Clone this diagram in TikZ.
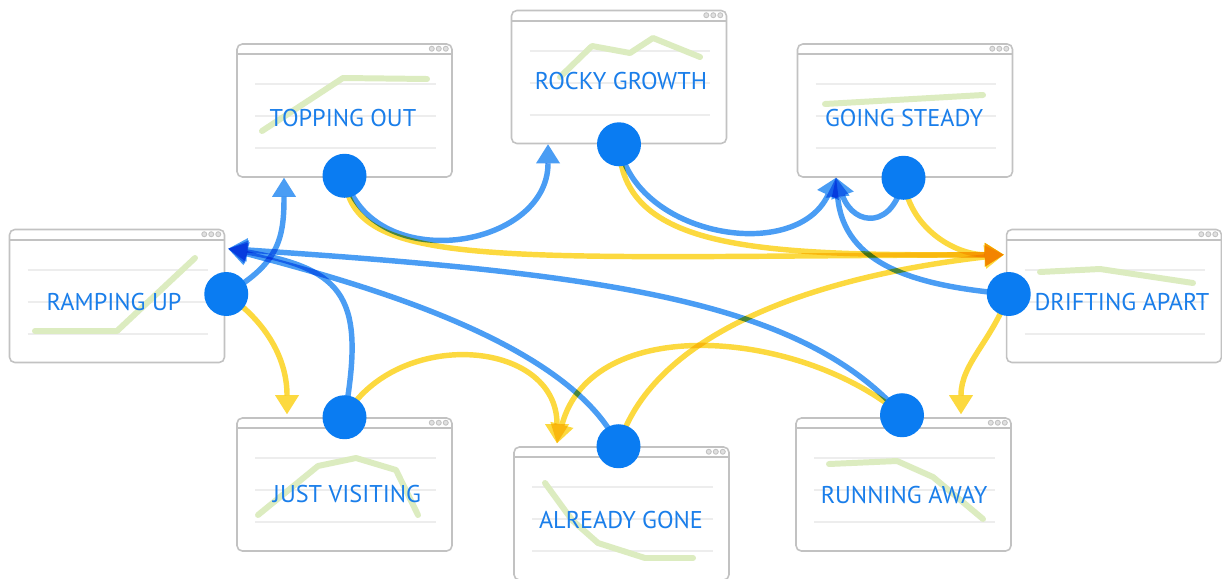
\documentclass[tikz,border=0pt]{standalone}
\usepackage{fontspec}
\setmainfont{PT Sans}
\usetikzlibrary{arrows.meta}

\definecolor{boxgray}{HTML}{C2C2C2}
\definecolor{rulegray}{HTML}{EDEDED}
\definecolor{trendgreen}{HTML}{DCECC0}
\definecolor{labelblue}{HTML}{1A7EEA}
\definecolor{dotblue}{HTML}{0A7CF2}
\definecolor{gainblue}{HTML}{4A9DF4}
\definecolor{lossyellow}{HTML}{FCD93F}

\pgfdeclarelayer{back}
\pgfdeclarelayer{flows}
\pgfsetlayers{back,flows,main}

\tikzset{
  window/.style={draw=boxgray, line width=0.9pt, fill=white, rounded corners=3pt,
    minimum width=4.3cm, minimum height=2.66cm, inner sep=0pt},
  winframe/.style={boxgray, line width=0.9pt},
  gridrule/.style={rulegray, line width=1.2pt},
  trend/.style={trendgreen, line width=3.4pt, line cap=round, line join=round},
  stage/.style={text=labelblue, anchor=base, font=\fontsize{13.8}{16}\selectfont},
  handle/.style={circle, fill=dotblue, minimum size=0.88cm, inner sep=0pt},
  flowline/.style={line width=3.1pt, blend mode=multiply,
    -{Triangle[width=0.48cm,length=0.38cm,line width=0pt]}},
  gain/.style={flowline, gainblue},
  loss/.style={flowline, lossyellow},
}

\begin{document}
\begin{tikzpicture}[x=0.02cm, y=-0.02cm]
\useasboundingbox (0,0) rectangle (1222,578);

\begin{pgfonlayer}{back}
  % the eight browser windows
  \node[window] (ramping)  at (117,296)     {};
  \node[window] (topping)  at (344.5,110.5) {};
  \node[window] (rocky)    at (619,77)      {};
  \node[window] (steady)   at (905,110.5)   {};
  \node[window] (drifting) at (1114,296)    {};
  \node[window] (visiting) at (344.5,484.5) {};
  \node[window] (gone)     at (621.5,513.5) {};
  \node[window] (running)  at (903.5,484.5) {};

  % title bar, window buttons and grid rules
  \foreach \w in {ramping,topping,rocky,steady,drifting,visiting,gone,running}{
    \draw[winframe] ([yshift=-0.22cm]\w.north west) -- ([yshift=-0.22cm]\w.north east);
    \foreach \d in {0.14,0.28,0.42}
      \draw[winframe, line width=0.5pt, fill=boxgray!50]
        ([xshift=-\d cm, yshift=-0.11cm]\w.north east) circle (0.05cm);
    \foreach \r in {0.82,1.46,2.10}
      \draw[gridrule] ([xshift=0.38cm, yshift=-\r cm]\w.north west)
        -- ([xshift=-0.34cm, yshift=-\r cm]\w.north east);
  }

  % trend lines
  \draw[trend] (35,331) -- (117,331) -- (195,258);
  \draw[trend] (262,131) -- (343,78) -- (427,79);
  \draw[trend] (560,77) -- (592,46) -- (630,53) -- (653,38) -- (700,57);
  \draw[trend] (825,104) -- (983,95);
  \draw[trend] (1040,272) -- (1100,269) -- (1193,283);
  \draw[trend] (258,515) -- (318,466) -- (356,458) -- (396,470) -- (418,515);
  \draw[trend] (545,483) -- (572,520) -- (598,543) -- (645,558) -- (693,558);
  \draw[trend] (829,464) -- (897,461) -- (933,477) -- (983,519);

  % labels
  \node[stage] (rampingText)  at (114,310)  {RAMPING UP};
  \node[stage] (toppingText)  at (343,126)  {TOPPING OUT};
  \node[stage] (rockyText)    at (621,89)   {ROCKY GROWTH};
  \node[stage] (steadyText)   at (904,126)  {GOING STEADY};
  \node[stage] (driftingText) at (1122,310) {DRIFTING APART};
  \node[stage] (visitingText) at (347,502)  {JUST VISITING};
  \node[stage] (goneText)     at (621,528)  {ALREADY GONE};
  \node[stage] (runningText)  at (904,503)  {RUNNING AWAY};
\end{pgfonlayer}

% handles
\node[handle] (rampingDot)  at ([xshift=0.02cm,yshift=0.04cm]ramping.east) {};
\node[handle] (toppingDot)  at ([yshift=0.04cm]topping.south) {};
\node[handle] (rockyDot)    at (rocky.south) {};
\node[handle] (steadyDot)   at ([xshift=-0.03cm]steady.south) {};
\node[handle] (driftingDot) at ([xshift=0.06cm,yshift=0.04cm]drifting.west) {};
\node[handle] (visitingDot) at (visiting.north) {};
\node[handle] (goneDot)     at ([xshift=-0.06cm]gone.north) {};
\node[handle] (runningDot)  at ([xshift=-0.03cm,yshift=0.04cm]running.north) {};

% arrow targets
\coordinate (rampingIn)  at ([xshift=0.06cm,yshift=-0.4cm]ramping.north east);
\coordinate (toppingIn)  at ([xshift=-1.21cm]topping.south);
\coordinate (rockyIn)    at ([xshift=-1.42cm]rocky.south);
\coordinate (steadyIn)   at ([xshift=-1.38cm]steady.south);
\coordinate (driftingIn) at ([xshift=-0.04cm,yshift=-0.52cm]drifting.north west);
\coordinate (visitingIn) at ([xshift=-1.15cm,yshift=0.06cm]visiting.north);
\coordinate (goneIn)     at ([xshift=-1.29cm,yshift=0.06cm]gone.north);
\coordinate (runningIn)  at ([xshift=1.15cm,yshift=0.06cm]running.north);

\begin{pgfonlayer}{flows}
  % blue moves
  \draw[gain] (rampingDot.center) to[out=30, in=-90, looseness=1.2] (toppingIn);
  \draw[gain] (toppingDot.center) to[out=-75, in=-90, looseness=1.3] (rockyIn);
  \draw[gain] (rockyDot.center) to[out=-80, in=-115, looseness=1.1] (steadyIn);
  \draw[gain] (steadyDot.center) to[out=-100, in=-70, looseness=2] (steadyIn);
  \draw[gain] (driftingDot.center) to[out=175, in=-85, looseness=1.1] (steadyIn);
  \draw[gain] (visitingDot.center) to[out=80, in=-10, looseness=1.5] (rampingIn);
  \draw[gain] (goneDot.center) to[out=115, in=-15, looseness=0.7] (rampingIn);
  \draw[gain] (runningDot.center) .. controls +(-102,-116) and +(372,25) .. (rampingIn);

  % yellow moves
  \draw[loss] (rampingDot.center) to[out=-35, in=90] (visitingIn);
  \draw[loss] (toppingDot.center) .. controls +(6,95) and +(-505,2) .. (driftingIn);
  \draw[loss] (rockyDot.center) .. controls +(2,106) and +(-245,1) .. (driftingIn);
  \draw[loss] (steadyDot.center) to[out=-85, in=180] (driftingIn);
  \draw[loss] (goneDot.center) .. controls +(32,-107) and +(-205,24) .. (driftingIn);
  \draw[loss] (visitingDot.center) to[out=60, in=90, looseness=1.25] (goneIn);
  \draw[loss] (runningDot.center) to[out=140, in=75] (goneIn);
  \draw[loss] (driftingDot.center) to[out=-110, in=90] (runningIn);
\end{pgfonlayer}
\end{tikzpicture}
\end{document}
